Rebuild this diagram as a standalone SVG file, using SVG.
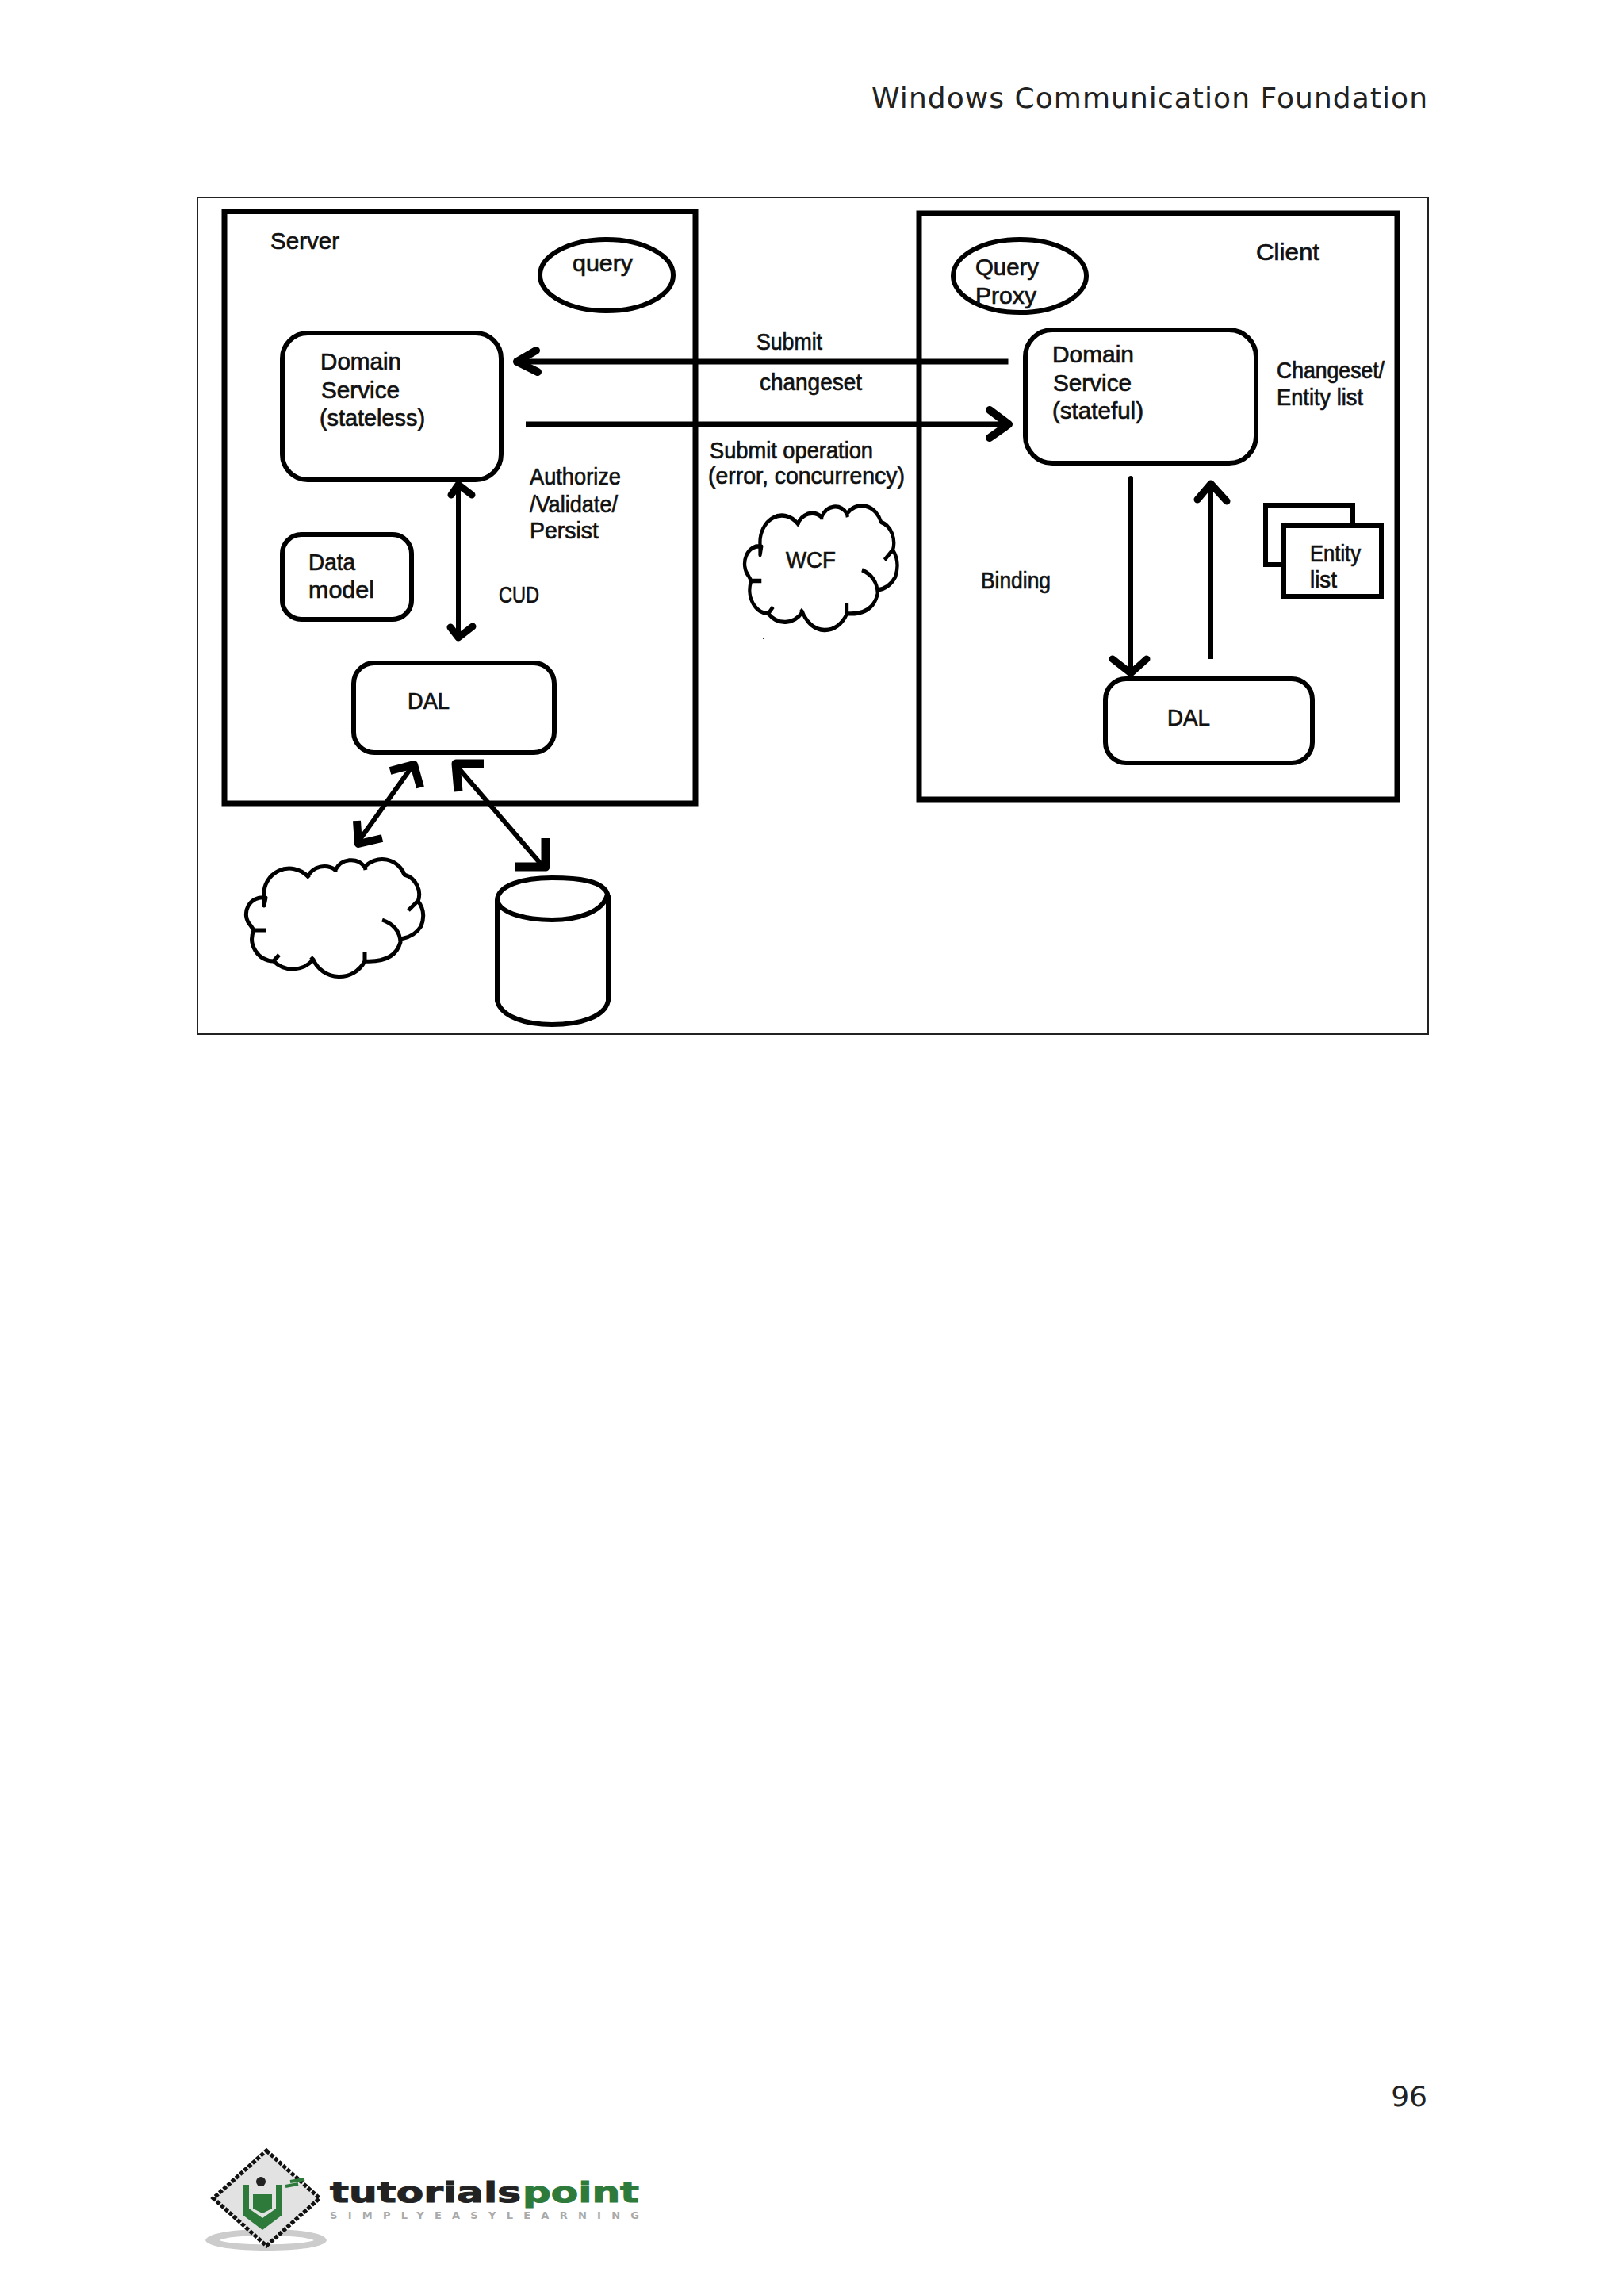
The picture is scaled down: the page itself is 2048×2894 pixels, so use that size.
<svg xmlns="http://www.w3.org/2000/svg" xmlns:xlink="http://www.w3.org/1999/xlink" width="2048" height="2894" viewBox="0 0 2048 2894">
<style>
.s{fill:#fff;stroke:#000;stroke-width:6}
.n{fill:none;stroke:#000;stroke-width:6;stroke-linecap:round;stroke-linejoin:round}
.b{fill:none;stroke:#000;stroke-width:7}
.c{fill:none;stroke:#000;stroke-width:5;stroke-linejoin:round;vector-effect:non-scaling-stroke}
text{font-family:"Liberation Sans",Arial,sans-serif;font-size:29px;fill:#111;stroke:#111;stroke-width:.7}
.h{font-family:"DejaVu Sans",Verdana,sans-serif;font-size:36px;fill:#222;stroke:none}
</style>
<defs>
<path id="cloud" d="M333 1130A32 32 0 0 1 388 1105A24 24 0 0 1 423 1097A22 22 0 0 1 460 1093A30 30 0 0 1 510 1103A26 26 0 0 1 527 1137M515 1148L527 1136Q538 1150 531 1168Q522 1182 504 1184M482 1160Q504 1168 505 1188Q498 1214 460 1212M460 1200V1212A36 36 0 0 1 395 1210M392 1207L395 1210A34 34 0 0 1 345 1212L352 1204M345 1212A28 28 0 0 1 320 1173L335 1173M320 1173L316 1167A21 21 0 0 1 335 1132L333 1142V1130M388 1105L390 1107M423 1097L423 1100M460 1093L461 1097"/>
</defs>
<rect width="2048" height="2894" fill="#fff"/>
<g id="header"><text class="h" x="1099" y="136" textLength="701" lengthAdjust="spacing">Windows Communication Foundation</text></g>
<g id="page-number"><text class="h" x="1800" y="2656" text-anchor="end">96</text></g>
<rect id="frame" x="249" y="249" width="1552" height="1055" fill="#fff" stroke="#222" stroke-width="2"/>
<g id="server"><rect class="b" x="283" y="266.500" width="594" height="746.500"/><text x="341" y="314" textLength="87" lengthAdjust="spacingAndGlyphs">Server</text></g>
<g id="client"><rect class="b" x="1159" y="269" width="603" height="739"/><text x="1584" y="328" textLength="80" lengthAdjust="spacingAndGlyphs">Client</text></g>
<g id="query"><ellipse class="s" cx="765" cy="347" rx="84" ry="45"/><text x="722" y="342" textLength="76" lengthAdjust="spacingAndGlyphs">query</text></g>
<g id="query-proxy"><ellipse class="s" cx="1286" cy="348" rx="84" ry="46"/><text x="1230" y="347" textLength="80" lengthAdjust="spacingAndGlyphs">Query</text><text x="1230" y="383" textLength="77" lengthAdjust="spacingAndGlyphs">Proxy</text></g>
<g id="domain-server"><rect class="s" x="356" y="420" width="276" height="185" rx="32"/><text x="404" y="466" textLength="102" lengthAdjust="spacingAndGlyphs">Domain</text><text x="405" y="502" textLength="99" lengthAdjust="spacingAndGlyphs">Service</text><text x="403" y="537" textLength="133" lengthAdjust="spacingAndGlyphs">(stateless)</text></g>
<g id="domain-client"><rect class="s" x="1293" y="416" width="291" height="168" rx="34"/><text x="1327" y="457" textLength="103" lengthAdjust="spacingAndGlyphs">Domain</text><text x="1328" y="493" textLength="99" lengthAdjust="spacingAndGlyphs">Service</text><text x="1327" y="528" textLength="115" lengthAdjust="spacingAndGlyphs">(stateful)</text></g>
<g id="data-model"><rect class="s" x="356" y="674" width="163" height="107" rx="24"/><text x="389" y="719" textLength="59" lengthAdjust="spacingAndGlyphs">Data</text><text x="389" y="754" textLength="83" lengthAdjust="spacingAndGlyphs">model</text></g>
<g id="dal-server"><rect class="s" x="446" y="836" width="253" height="113" rx="26"/><text x="514" y="894" textLength="53" lengthAdjust="spacingAndGlyphs">DAL</text></g>
<g id="dal-client"><rect class="s" x="1394" y="856" width="261" height="106" rx="26"/><text x="1472" y="915" textLength="54" lengthAdjust="spacingAndGlyphs">DAL</text></g>
<g id="entity-list"><rect class="s" x="1596" y="637" width="110" height="75"/><rect class="s" x="1619" y="663" width="123" height="89"/><text x="1652" y="708" textLength="64" lengthAdjust="spacingAndGlyphs">Entity</text><text x="1652" y="741" textLength="34" lengthAdjust="spacingAndGlyphs">list</text></g>
<g id="wcf"><use xlink:href="#cloud" href="#cloud" class="c" fill="none" stroke="#000" transform="matrix(.862 0 0 1.059 671.500 -509.700)"/><text x="991" y="716" textLength="63" lengthAdjust="spacingAndGlyphs">WCF</text></g>
<g id="cloud-lower"><use xlink:href="#cloud" href="#cloud" fill="none" stroke="#000" stroke-width="5" stroke-linejoin="round"/></g>
<g id="database"><path class="n" d="M627 1135V1262C632 1283 665 1292 696 1292C732 1292 763 1282 767 1262V1130M766 1127C760 1110 728 1107 696 1107C660 1107 628 1116 627 1135C630 1152 665 1160 696 1160C728 1160 762 1150 766 1127Z" stroke-linecap="butt"/></g>
<g id="connectors">
<path class="n" style="stroke-width:7;stroke-linecap:butt" d="M648 456H1271.500M663 535H1272"/>
<path class="n" style="stroke-width:10" d="M676 442L652 456L678 469M1248 517L1272 535L1248 552"/>
<path class="n" d="M578 610V805"/>
<path class="n" style="stroke-width:9" d="M569 624L578 611L595 624M568 791L578 804L596 790"/>
<path class="n" d="M1426 603V850"/>
<path class="n" style="stroke-width:9" d="M1403 831L1426 849L1446 831"/>
<path class="n" style="stroke-linecap:butt" d="M1527 831V610"/>
<path class="n" style="stroke-width:9" d="M1510 630L1527 610L1547 632"/>
<path class="n" d="M520 966L450 1064"/>
<path class="n" style="stroke-width:10;stroke-linecap:butt" d="M492 972L522 964L530 993M450 1035L452 1064L482 1057"/>
<path class="n" d="M576 966L686 1094"/>
<path class="n" style="stroke-width:11;stroke-linecap:butt" d="M610 963H575L578 998M688 1057V1093H650"/>
</g>
<g id="labels">
<text x="954" y="441" textLength="83" lengthAdjust="spacingAndGlyphs">Submit</text>
<text x="958" y="492" textLength="129" lengthAdjust="spacingAndGlyphs">changeset</text>
<text x="895" y="578" textLength="206" lengthAdjust="spacingAndGlyphs">Submit operation</text>
<text x="893" y="610" textLength="248" lengthAdjust="spacingAndGlyphs">(error, concurrency)</text>
<text x="668" y="611" textLength="115" lengthAdjust="spacingAndGlyphs">Authorize</text>
<text x="668" y="646" textLength="111" lengthAdjust="spacingAndGlyphs">/Validate/</text>
<text x="668" y="679" textLength="87" lengthAdjust="spacingAndGlyphs">Persist</text>
<text x="629" y="760" textLength="51" lengthAdjust="spacingAndGlyphs">CUD</text>
<text x="1237" y="742" textLength="88" lengthAdjust="spacingAndGlyphs">Binding</text>
<text x="1610" y="477" textLength="136" lengthAdjust="spacingAndGlyphs">Changeset/</text>
<text x="1610" y="511" textLength="109" lengthAdjust="spacingAndGlyphs">Entity list</text>
</g>
<rect id="speck" x="962" y="804" width="2" height="2" fill="#333"/>
<g id="logo">
<path d="M259 2825C262 2815 300 2811 336 2811C375 2811 410 2815 412 2825C410 2834 375 2838 336 2838C300 2838 262 2834 259 2825ZM277 2825C290 2832 380 2832 396 2825C380 2817 290 2817 277 2825Z" fill="#ccc" fill-rule="evenodd"/>
<path d="M336 2712L403 2772L336 2832L269 2772Z" fill="#e2e2e2" stroke="#111" stroke-width="5" stroke-dasharray="5 2"/>
<circle cx="329" cy="2751" r="6" fill="#222"/>
<path d="M306 2755H314V2785L331 2797L348 2785V2755H356V2793L331 2812L306 2793Z" fill="#2d7a3a"/>
<path d="M319 2767H343V2785L331 2791L319 2785Z" fill="#2d7a3a"/>
<path d="M366 2751L384 2748M360 2757L376 2754" stroke="#2d7a3a" stroke-width="4" fill="none"/>
<text x="416" y="2777" textLength="241" lengthAdjust="spacingAndGlyphs" style="font-family:'DejaVu Sans',sans-serif;font-weight:bold;font-size:36px;fill:#222;stroke:#222;stroke-width:1">tutorials</text>
<text x="659" y="2777" textLength="147" lengthAdjust="spacingAndGlyphs" style="font-family:'DejaVu Sans',sans-serif;font-weight:bold;font-size:36px;fill:#2d7a3a;stroke:#2d7a3a;stroke-width:1">point</text>
<text x="416" y="2798" textLength="390" lengthAdjust="spacing" style="font-family:'DejaVu Sans',sans-serif;font-size:13px;fill:#aaa;stroke:none;font-weight:bold">SIMPLYEASYLEARNING</text>
</g>
</svg>
